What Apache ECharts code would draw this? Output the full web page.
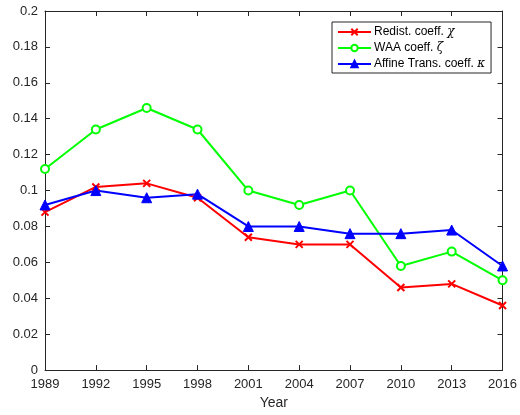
<!DOCTYPE html>
<html><head><meta charset="utf-8">
<script src="https://cdn.jsdelivr.net/npm/echarts@6/dist/echarts.min.js"></script>
<style>html,body{margin:0;padding:0;background:#fff}#c{width:520px;height:415px}</style>
</head><body><div id="c"></div>
<script>
const years = [1989, 1992, 1995, 1998, 2001, 2004, 2007, 2010, 2013, 2016];
const redist = [0.088, 0.102, 0.104, 0.096, 0.074, 0.070, 0.070, 0.046, 0.048, 0.036];
const waa = [0.112, 0.134, 0.146, 0.134, 0.100, 0.092, 0.100, 0.058, 0.066, 0.050];
const affine = [0.092, 0.100, 0.096, 0.098, 0.080, 0.080, 0.076, 0.076, 0.078, 0.058];
const names = ['Redist. coeff. {g|χ}', 'WAA coeff. {g|ζ}', 'Affine Trans. coeff. {g|κ}'];

const axisColor = '#262626';
const font = 'Liberation Sans, Arial, Helvetica, sans-serif';
const pairs = a => years.map((y, i) => [y, a[i]]);
const cross = 'path://M0,0L10,10M10,0L0,10';

const chart = echarts.init(document.getElementById('c'), null, {renderer: 'canvas'});
const xBase = {type: 'value', min: 1989, max: 2016, interval: 3,
  axisLine: {show: true, onZero: false, lineStyle: {color: axisColor, width: 1}},
  axisTick: {show: true, inside: true, length: 5, lineStyle: {color: axisColor}},
  splitLine: {show: false}};
const yBase = {type: 'value', min: 0, max: 0.2, interval: 0.02,
  axisLine: {show: true, onZero: false, lineStyle: {color: axisColor, width: 1}},
  axisTick: {show: true, inside: true, length: 5, lineStyle: {color: axisColor}},
  splitLine: {show: false}};
chart.setOption({
  animation: false,
  backgroundColor: '#fff',
  grid: {left: 45, right: 17, top: 11, bottom: 41, containLabel: false},
  xAxis: [
    Object.assign({}, xBase, {position: 'bottom',
      axisLabel: {color: axisColor, fontFamily: font, fontSize: 13, margin: 8, formatter: v => String(v)},
      name: 'Year', nameLocation: 'middle', nameGap: 31,
      nameTextStyle: {color: axisColor, fontFamily: font, fontSize: 14, verticalAlign: 'middle'}}),
    Object.assign({}, xBase, {position: 'top', axisLabel: {show: false}})
  ],
  yAxis: [
    Object.assign({}, yBase, {position: 'left',
      axisLabel: {color: axisColor, fontFamily: font, fontSize: 13, margin: 7}}),
    Object.assign({}, yBase, {position: 'right', axisLabel: {show: false}})
  ],
  legend: {
    orient: 'vertical', left: 332, top: 22, padding: [4, 6, 3, 5],
    itemWidth: 33, itemHeight: 8, itemGap: 4,
    backgroundColor: '#fff', borderColor: axisColor, borderWidth: 1, borderRadius: 0,
    data: names,
    textStyle: {color: '#000', fontFamily: font, fontSize: 12, padding: [0, 0, 0, -2],
      rich: {g: {fontFamily: 'DejaVu Serif, Liberation Serif, serif', fontStyle: 'italic', fontSize: 12, color: '#000'}}}
  },
  series: [
    {name: names[0], type: 'line', data: pairs(redist), symbol: cross, symbolSize: 7,
      lineStyle: {color: '#ff0000', width: 2}, itemStyle: {color: '#ff0000', borderColor: '#ff0000', borderWidth: 2}},
    {name: names[1], type: 'line', data: pairs(waa), symbol: 'emptyCircle', symbolSize: 8,
      lineStyle: {color: '#00ff00', width: 2}, itemStyle: {color: '#00ff00', borderColor: '#00ff00', borderWidth: 2}},
    {name: names[2], type: 'line', data: pairs(affine), symbol: 'triangle', symbolSize: 10,
      lineStyle: {color: '#0000ff', width: 2}, itemStyle: {color: '#0000ff', borderColor: '#0000ff', borderWidth: 1}}
  ]
});
</script></body></html>
